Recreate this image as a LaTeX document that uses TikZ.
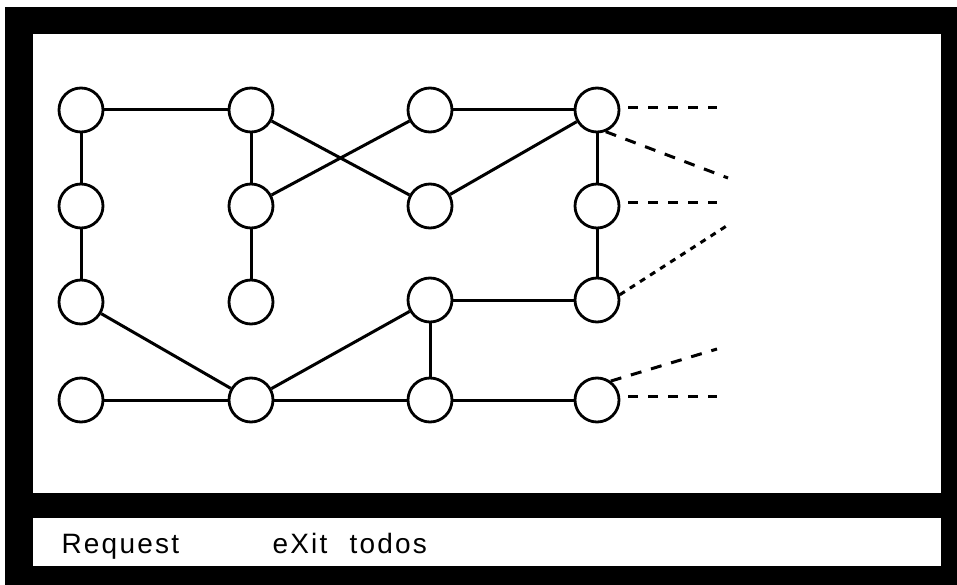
\documentclass[tikz,border=0pt]{standalone}
\usepackage{fontspec}
\setmainfont{Liberation Sans}
\usetikzlibrary{calc,positioning}

\begin{document}
\begin{tikzpicture}[x=1pt,y=-1pt,line width=3pt]
  \tikzstyle{knot}=[draw,circle,minimum size=44pt,inner sep=0pt,line width=2.8pt]
  \tikzstyle{stub}=[dash pattern=on 10pt off 10pt,line width=3pt]
  \tikzstyle{menu}=[anchor=base west,inner sep=0pt,font=\fontsize{28}{30}\selectfont\addfontfeature{LetterSpace=8}]
  \useasboundingbox (0,0) rectangle (957,585);

  % screen frame and menu bar
  \fill[black] (5,7) rectangle (957,585);
  \fill[white] (33,34) rectangle (941,493);
  \fill[white] (33,518) rectangle (941,566);

  % nodes, row by row
  \node[knot] (a11) at (81,110) {};
  \node[knot] (a12) at (251,110) {};
  \node[knot] (a13) at (430,110) {};
  \node[knot] (a14) at (597,110) {};
  \node[knot] (a21) at (81,206) {};
  \node[knot] (a22) at (251,206) {};
  \node[knot] (a23) at (430,206) {};
  \node[knot] (a24) at (597,206) {};
  \node[knot] (a31) at (81,302) {};
  \node[knot] (a32) at (251,302) {};
  \node[knot] (a33) at (430,300) {};
  \node[knot] (a34) at (597,300) {};
  \node[knot] (a41) at (81,400) {};
  \node[knot] (a42) at (251,400) {};
  \node[knot] (a43) at (430,400) {};
  \node[knot] (a44) at (597,400) {};

  % links
  \draw (a11) -- (a12);
  \draw (a13) -- (a14);
  \draw (a11) -- (a21);
  \draw (a21) -- (a31);
  \draw (a12) -- (a22);
  \draw (a22) -- (a32);
  \draw (a12) -- (a23);
  \draw (a22) -- (a13);
  \draw (a23) -- (a14);
  \draw (a14) -- (a24);
  \draw (a24) -- (a34);
  \draw (a31) -- (a42);
  \draw (a42) -- (a33);
  \draw (a33) -- (a43);
  \draw (a33) -- (a34);
  \draw (a41) -- (a42);
  \draw (a42) -- (a43);
  \draw (a43) -- (a44);

  % open ends on the right
  \coordinate (e1) at (717,108);
  \coordinate (e2) at (728,178);
  \coordinate (e3) at (717,203);
  \coordinate (e4) at (728,225);
  \coordinate (e5) at (717,349);
  \coordinate (e6) at (717,396);
  \draw[stub] ($(a14.east)+(8,-2)$) -- (e1);
  \draw[stub,dash pattern=on 11pt off 10pt] (a14.-68) -- (e2);
  \draw[stub] ($(a24.east)+(8,-3)$) -- (e3);
  \draw[stub,dash pattern=on 6pt off 6pt] (a34.13) -- (e4);
  \draw[stub,dash pattern=on 11pt off 10pt] (a44.54) -- (e5);
  \draw[stub] ($(a44.east)+(8,-4)$) -- (e6);

  % menu line
  \node[menu] (req) at (60,553) {Request};
  \node[menu] (ex) at (271,553) {eXit};
  \node[menu] (tod) at (348,553) {todos};
\end{tikzpicture}
\end{document}
